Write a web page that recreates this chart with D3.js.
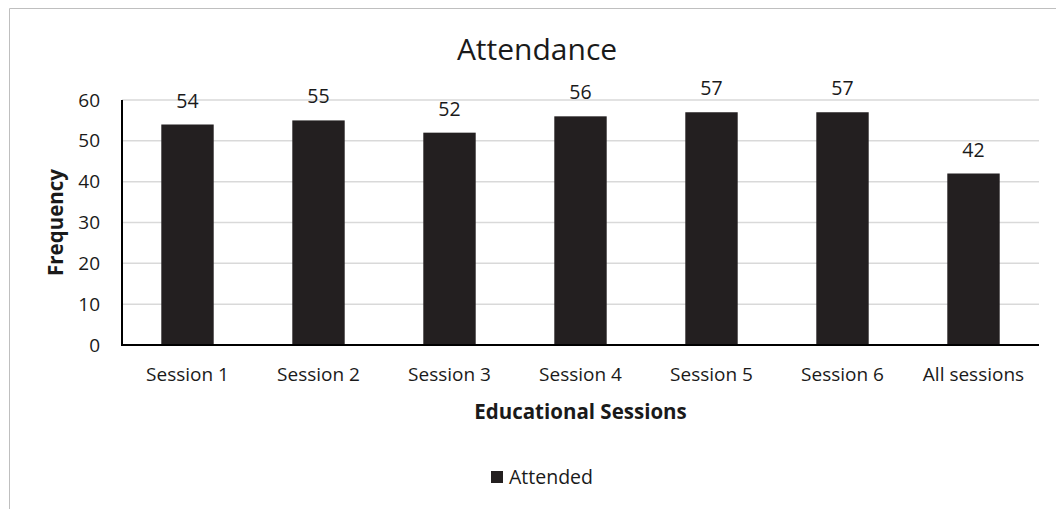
<!DOCTYPE html>
<html>
<head>
<meta charset="utf-8">
<script src="https://cdn.jsdelivr.net/npm/d3@7"></script>
<style>
  body { margin: 0; background: #fff; }
  text { font-family: "Open Sans", sans-serif; fill: #1a1a1a; }
</style>
</head>
<body>
<svg id="chart"></svg>
<script>
const categories = ['Session 1', 'Session 2', 'Session 3', 'Session 4', 'Session 5', 'Session 6', 'All sessions'];
const attended = [54, 55, 52, 56, 57, 57, 42];
const yTicks = [0, 10, 20, 30, 40, 50, 60];

const width = 1056, height = 509;
const margin = {top: 100, right: 17, bottom: 164, left: 122};
const innerW = width - margin.left - margin.right;
const innerH = height - margin.top - margin.bottom;
const barColor = '#231f20';

const svg = d3.select('#chart')
    .attr('width', width)
    .attr('height', height);

// outer frame (only top & left edges are visible in the crop)
svg.append('path')
    .attr('d', `M9.5,${height} V8.5 H${width}`)
    .attr('fill', 'none')
    .attr('stroke', '#bfbfbf')
    .attr('stroke-width', 1);

const chart = svg.append('g')
    .attr('transform', `translate(${margin.left}, ${margin.top})`);

const xscale = d3.scaleBand()
    .domain(categories)
    .range([0, innerW])
    .paddingInner(0.6)
    .paddingOuter(0.3);

const yscale = d3.scaleLinear()
    .domain([0, 60])
    .range([innerH, 0]);

// gridlines
chart.append('g')
    .selectAll('line')
    .data(yTicks.filter(d => d > 0))
    .join('line')
    .attr('x1', 0)
    .attr('x2', innerW)
    .attr('y1', d => yscale(d))
    .attr('y2', d => yscale(d))
    .attr('stroke', '#d9d9d9')
    .attr('stroke-width', 1.5);

// bars
chart.selectAll('rect.bar')
    .data(attended)
    .join('rect')
    .attr('class', 'bar')
    .attr('x', (d, i) => xscale(categories[i]))
    .attr('y', d => yscale(d))
    .attr('width', xscale.bandwidth())
    .attr('height', d => innerH - yscale(d))
    .attr('fill', barColor);

// data labels
chart.selectAll('text.lbl')
    .data(attended)
    .join('text')
    .attr('class', 'lbl')
    .attr('x', (d, i) => xscale(categories[i]) + xscale.bandwidth() / 2)
    .attr('y', d => yscale(d) - 17)
    .attr('text-anchor', 'middle')
    .style('font-size', '19.5px')
    .text(d => d);

// y axis
const yaxis = d3.axisLeft(yscale)
    .tickValues(yTicks)
    .tickSize(0)
    .tickPadding(22);
const yg = chart.append('g').call(yaxis);
yg.select('.domain').remove();
yg.selectAll('text')
    .style('font-size', '19px')
    .style('font-family', '"Open Sans", sans-serif')
    .attr('fill', '#1a1a1a');

// x axis
const xaxis = d3.axisBottom(xscale)
    .tickSize(0)
    .tickPadding(23);
const xg = chart.append('g')
    .attr('transform', `translate(0, ${innerH})`)
    .call(xaxis);
xg.select('.domain').remove();
xg.selectAll('text')
    .style('font-size', '19px')
    .style('font-family', '"Open Sans", sans-serif')
    .attr('fill', '#1a1a1a');

// axis lines
chart.append('line')
    .attr('x1', 0).attr('x2', 0)
    .attr('y1', 0).attr('y2', innerH + 1)
    .attr('stroke', '#000').attr('stroke-width', 2);
chart.append('line')
    .attr('x1', -1).attr('x2', innerW)
    .attr('y1', innerH).attr('y2', innerH)
    .attr('stroke', '#000').attr('stroke-width', 2);

// title
svg.append('text')
    .attr('x', 537)
    .attr('y', 60)
    .attr('text-anchor', 'middle')
    .style('font-size', '30px')
    .text('Attendance');

// axis titles
svg.append('text')
    .attr('x', margin.left + innerW / 2)
    .attr('y', 419)
    .attr('text-anchor', 'middle')
    .style('font-size', '20.5px')
    .style('font-weight', 'bold')
    .text('Educational Sessions');

svg.append('text')
    .attr('transform', `translate(63, ${margin.top + innerH / 2}) rotate(-90)`)
    .attr('text-anchor', 'middle')
    .style('font-size', '20.5px')
    .style('font-weight', 'bold')
    .text('Frequency');

// legend
const legend = svg.append('g')
    .attr('transform', 'translate(491, 471)');
legend.append('rect')
    .attr('width', 12).attr('height', 12)
    .attr('fill', barColor);
legend.append('text')
    .attr('x', 18)
    .attr('y', 12.5)
    .style('font-size', '19.5px')
    .text('Attended');
</script>
</body>
</html>
